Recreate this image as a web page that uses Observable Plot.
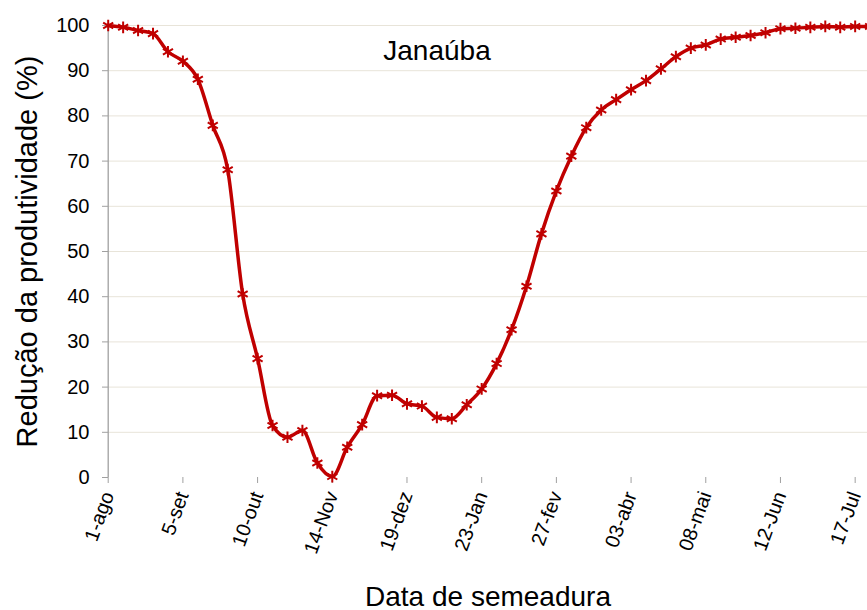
<!DOCTYPE html>
<html>
<head>
<meta charset="utf-8">
<script src="https://cdn.jsdelivr.net/npm/d3@7"></script>
<script src="https://cdn.jsdelivr.net/npm/@observablehq/plot@0.6"></script>
<style>
  html, body { margin: 0; padding: 0; background: #fff; }
</style>
</head>
<body>
<div id="chart"></div>
<script>
const dates = [
  "2001-08-01","2001-08-08","2001-08-15","2001-08-22","2001-08-29",
  "2001-09-05","2001-09-12","2001-09-19","2001-09-26",
  "2001-10-03","2001-10-10","2001-10-17","2001-10-24","2001-10-31",
  "2001-11-07","2001-11-14","2001-11-21","2001-11-28",
  "2001-12-05","2001-12-12","2001-12-19","2001-12-26",
  "2002-01-02","2002-01-09","2002-01-16","2002-01-23","2002-01-30",
  "2002-02-06","2002-02-13","2002-02-20","2002-02-27",
  "2002-03-06","2002-03-13","2002-03-20","2002-03-27",
  "2002-04-03","2002-04-10","2002-04-17","2002-04-24",
  "2002-05-01","2002-05-08","2002-05-15","2002-05-22","2002-05-29",
  "2002-06-05","2002-06-12","2002-06-19","2002-06-26",
  "2002-07-03","2002-07-10","2002-07-17","2002-07-24"
];
const reducao = [
  100, 99.6, 98.9, 98.2, 94.2,
  92.1, 88.1, 77.9, 68.1,
  40.6, 26.3, 11.5, 8.9, 10.4,
  3.2, 0.2, 6.7, 11.7,
  18.1, 18.2, 16.3, 15.8,
  13.3, 13.0, 16.1, 19.6, 25.2,
  32.7, 42.3, 53.9, 63.4,
  71.1, 77.4, 81.3, 83.6,
  85.8, 87.8, 90.4, 93.1,
  95.0, 95.7, 97.0, 97.4, 97.8,
  98.4, 99.3, 99.4, 99.6,
  99.8, 99.6, 99.8, 99.8
];
const tickDates = [
  "2001-08-01","2001-09-05","2001-10-10","2001-11-14","2001-12-19",
  "2002-01-23","2002-02-27","2002-04-03","2002-05-08","2002-06-12","2002-07-17"
];
const tickLabels = ["1-ago","5-set","10-out","14-Nov","19-dez","23-Jan","27-fev","03-abr","08-mai","12-Jun","17-Jul"];
const yTicks = [0,10,20,30,40,50,60,70,80,90,100];
const title = "Janaúba";
const xTitle = "Data de semeadura";
const yTitle = "Redução da produtividade (%)";

const parse = d3.utcParse("%Y-%m-%d");
const data = dates.map((d, i) => ({date: parse(d), value: reducao[i]}));
const tickDateObjs = tickDates.map(parse);
const labelOf = new Map(tickDateObjs.map((d, i) => [+d, tickLabels[i]]));

const red = "#c00000";
const axisGray = "#a0a0a0";

const chart = Plot.plot({
  width: 867,
  height: 610,
  marginLeft: 108,
  marginRight: 0,
  marginTop: 25,
  marginBottom: 133,
  style: {fontFamily: "'Liberation Sans', Arial, sans-serif", background: "#fff", color: "#000"},
  x: {type: "utc", domain: [parse(dates[0]), parse(dates[dates.length - 1])], range: [107.7, 869.6]},
  y: {domain: [0, 100], range: [477, 25]},
  marks: [
    Plot.gridY({ticks: yTicks.filter(t => t > 0), stroke: "#e8e4d9", strokeOpacity: 1, strokeWidth: 1}),
    Plot.ruleX([parse(dates[0])], {y1: 0, y2: 100, stroke: axisGray, strokeWidth: 1.3}),
    Plot.axisY({ticks: yTicks, tickSize: 6, tickPadding: 13, fontSize: 20, stroke: axisGray, fill: "#000", label: null}),
    Plot.axisX({ticks: tickDateObjs, tickFormat: d => labelOf.get(+d), tickRotate: -70, tickSize: 6, tickPadding: 9, fontSize: 20, stroke: axisGray, fill: "#000", label: null}),
    Plot.line(data, {x: "date", y: "value", stroke: red, strokeWidth: 3.5, curve: "monotone-x", strokeLinejoin: "round"}),
    Plot.dot(data, {x: "date", y: "value", symbol: "asterisk", r: 5.5, stroke: red, strokeWidth: 2}),
    Plot.text([title], {frameAnchor: "top", dx: -51, dy: 34, lineAnchor: "bottom", textAnchor: "middle", fontSize: 28, fill: "#000"}),
    Plot.text([xTitle], {frameAnchor: "bottom", dy: 128, lineAnchor: "bottom", textAnchor: "middle", fontSize: 28, fill: "#000"}),
    Plot.text([yTitle], {frameAnchor: "left", dx: -81, rotate: -90, textAnchor: "middle", lineAnchor: "middle", fontSize: 29, fill: "#000"})
  ]
});
document.getElementById("chart").appendChild(chart);
</script>
</body>
</html>
